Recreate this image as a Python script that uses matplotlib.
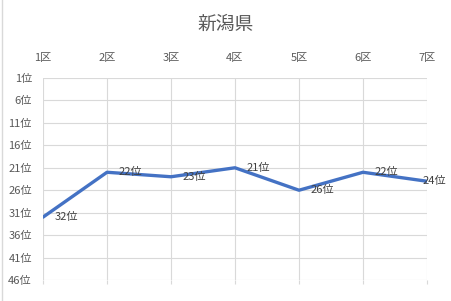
import matplotlib
matplotlib.use("Agg")
import matplotlib.pyplot as plt
from matplotlib.lines import Line2D

plt.rcParams['font.family'] = ['Noto Sans CJK JP', 'DejaVu Sans']

# 選挙区と順位
districts = ['1区', '2区', '3区', '4区', '5区', '6区', '7区']
ranks = [32, 22, 23, 21, 26, 22, 24]
ytick_vals = list(range(1, 47, 5))
ytick_labels = [str(v) + '位' for v in ytick_vals]

fig = plt.figure(figsize=(4.51, 3.01), dpi=100)
ax = fig.add_axes([43 / 451, 1 - 280 / 301, (427 - 43) / 451, (280 - 78) / 301])

x = list(range(len(districts)))
ax.plot(x, ranks, color='#4472C4', lw=2.4, solid_capstyle='round', zorder=3)
for xi, r in zip(x, ranks):
    dx = 8.6 if xi < len(x) - 1 else -3
    ax.annotate(str(r) + '位', (xi, r), xytext=(dx, 0), textcoords='offset points',
                ha='left', va='center', fontsize=8, color='#404040', zorder=4,
                annotation_clip=False)

ax.set_xlim(0, len(districts) - 1)
ax.set_ylim(46, 1)
ax.set_xticks(x)
ax.set_xticklabels(districts)
ax.set_yticks(ytick_vals)
ax.set_yticklabels(ytick_labels)
ax.tick_params(axis='x', top=False, labeltop=True, bottom=True, labelbottom=False,
               length=3, color='#D9D9D9', labelsize=8, labelcolor='#595959', pad=8)
ax.tick_params(axis='y', length=0, labelsize=8, labelcolor='#595959', pad=8)
ax.grid(True, color='#D9D9D9', lw=0.8)
ax.set_axisbelow(True)
for s in ax.spines.values():
    s.set_visible(False)

fig.text(0.5, 1 - 24 / 301, '新潟県', ha='center', va='center', fontsize=13.5, color='#595959')
fig.add_artist(Line2D([1.5 / 451, 1.5 / 451], [0, 1], transform=fig.transFigure, color='#D9D9D9', lw=1))

fig.savefig('out.png', dpi=100)
